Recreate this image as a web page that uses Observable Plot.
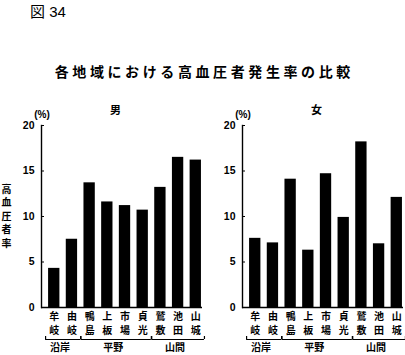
<!DOCTYPE html>
<html><head><meta charset="utf-8">
<script src="https://cdn.jsdelivr.net/npm/d3@7"></script>
<script src="https://cdn.jsdelivr.net/npm/@observablehq/plot@0.6"></script>
<style>
body{margin:0;background:#fff;}
#root{position:relative;width:405px;height:355px;overflow:hidden;font-family:"Liberation Sans","Noto Sans CJK JP",sans-serif;color:#000;background:#fff}
#fig{position:absolute;left:30px;top:0px;font-size:15px;}
#title{position:absolute;left:0;width:405px;top:61px;text-align:center;font-size:14px;font-weight:bold;letter-spacing:3.6px;text-indent:3.6px;font-family:"Noto Sans CJK JP",sans-serif}
.panel{position:absolute;top:100px}
</style></head><body>
<div id="root">
<div id="fig">図 34</div>
<div id="title">各地域における高血圧者発生率の比較</div>
<div id="left" class="panel" style="left:1px"></div>
<div id="right" class="panel" style="left:202px"></div>
</div>
<script>
const places = ["牟岐","由岐","鴨島","上板","市場","貞光","鷲敷","池田","山城"];
const male = [4.3,7.5,13.7,11.6,11.2,10.7,13.2,16.5,16.2];
const female = [7.6,7.1,14.1,6.3,14.7,9.9,18.2,7.0,12.1];
const groupNames = ["沿岸","平野","山間"];
const groupFirst = ["牟岐","鴨島","鷲敷"];
const groupLast = ["由岐","貞光","山城"];
const yTicks = [0,5,10,15,20];
const panelTitles = ["男","女"];
const yLabel = "高血圧者率";
const unitLabel = "(%)";

const W = 202, H = 255, ML = 40, MR = 1, MT = 25, MB = 48;
const xOpts = {type: "band", domain: places, range: [ML, W - MR], paddingInner: 0.36, paddingOuter: 0.23, align: 0.87, round: false};
const xs = Plot.scale({x: xOpts});
const bw = xs.bandwidth, step = xs.step;
const groups = groupNames.map((name, i) => ({name, first: groupFirst[i], last: groupLast[i],
  n: places.indexOf(groupLast[i]) - places.indexOf(groupFirst[i])}));
const font = '"Liberation Sans","Noto Sans CJK JP",sans-serif';
const cjk = '"Noto Sans CJK JP",sans-serif';

function panel(values, title, withYLabel) {
  const data = places.map((p, i) => ({place: p, value: values[i]}));
  const marks = [
    Plot.barY(data, {x: "place", y: "value", fill: "#000"}),
    Plot.ruleY([0], {stroke: "#000", strokeWidth: 1.4}),
    Plot.frame({anchor: "left", stroke: "#000", strokeWidth: 1.4}),
    Plot.ruleY(yTicks.filter(t => t > 0), {insetRight: (W - MR - ML) - 3, stroke: "#000", strokeWidth: 1}),
    Plot.axisY({ticks: yTicks, tickSize: 0, tickPadding: 7, fontSize: 10.5, fontWeight: "bold", label: null}),
    Plot.axisX({tickSize: 0, tickPadding: 5, tickFormat: d => d[0], fontSize: 10, fontWeight: "bold", fontFamily: cjk, label: null}),
    Plot.axisX({tickSize: 0, tickPadding: 19, tickFormat: d => d[1], fontSize: 10, fontWeight: "bold", fontFamily: cjk, label: null}),
    Plot.text([unitLabel], {text: d => d, frameAnchor: "top-left", textAnchor: "middle", dx: 0.5, dy: -15, fontSize: 10, fontWeight: "bold"}),
    Plot.text([title], {text: d => d, frameAnchor: "top-left", textAnchor: "middle", dx: 74, dy: -19.5, fontSize: 11, fontWeight: "bold", fontFamily: cjk}),
    Plot.ruleY(groups, {x1: "first", x2: "last", y: () => 0, dy: 32, insetLeft: -3, insetRight: -3, stroke: "#000", strokeWidth: 1.2}),
    Plot.ruleX(groups, {x: "first", y1: () => 0, y2: () => 0, insetTop: -3, dx: -(bw / 2 + 3), dy: 32, stroke: "#000", strokeWidth: 1.2}),
    Plot.ruleX(groups, {x: "last", y1: () => 0, y2: () => 0, insetTop: -3, dx: (bw / 2 + 3), dy: 32, stroke: "#000", strokeWidth: 1.2}),
    ...groups.map(g => Plot.text([g], {x: "first", text: "name", frameAnchor: "bottom", textAnchor: "middle", dx: g.n * step / 2 - 3, dy: 43,
      fontSize: 10, fontWeight: "bold", fontFamily: cjk}))
  ];
  if (withYLabel) {
    marks.push(Plot.text([yLabel], {text: d => d.split("").join("\n"), frameAnchor: "left", textAnchor: "middle", dx: -35, dy: -1,
      lineHeight: 1.35, fontSize: 10, fontWeight: "bold", fontFamily: cjk}));
  }
  return Plot.plot({
    width: W, height: H, marginLeft: ML, marginRight: MR, marginTop: MT, marginBottom: MB,
    style: {fontFamily: font, fontSize: "11px", color: "#000", background: "transparent", overflow: "visible"},
    x: {...xOpts, axis: null},
    y: {domain: [0, 20], axis: null},
    marks
  });
}
document.getElementById("left").append(panel(male, panelTitles[0], true));
document.getElementById("right").append(panel(female, panelTitles[1], false));
</script>
</body></html>
